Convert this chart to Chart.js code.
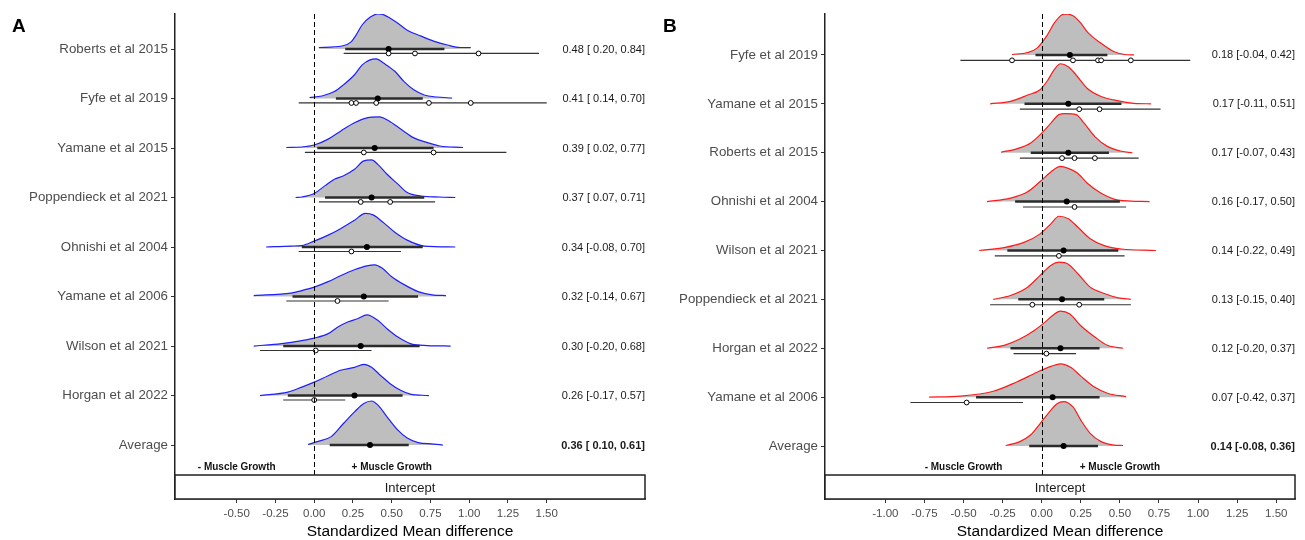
<!DOCTYPE html>
<html>
<head>
<meta charset="utf-8">
<script src="https://cdn.jsdelivr.net/npm/chart.js@4.4.1/dist/chart.umd.min.js"></script>
<style>
  body { margin: 0; background: #fff; }
  #wrap { position: relative; width: 1305px; height: 540px; }
  .panel { position: absolute; top: 0; }
</style>
</head>
<body>
<div id="wrap">
  <div class="panel" style="left:0"><canvas id="chartA" width="650" height="540"></canvas></div>
  <div class="panel" style="left:650px"><canvas id="chartB" width="655" height="540"></canvas></div>
</div>
<script>
const FONT = '"Liberation Sans", Arial, sans-serif';

// --- Panel A data ---
const studiesA = ['Roberts et al 2015', 'Fyfe et al 2019', 'Yamane et al 2015', 'Poppendieck et al 2021',
  'Ohnishi et al 2004', 'Yamane et al 2006', 'Wilson et al 2021', 'Horgan et al 2022', 'Average'];
const meanA = [0.48, 0.41, 0.39, 0.37, 0.34, 0.32, 0.30, 0.26, 0.36];
const lowA  = [0.20, 0.14, 0.02, 0.07, -0.08, -0.14, -0.20, -0.17, 0.10];
const highA = [0.84, 0.70, 0.77, 0.71, 0.70, 0.67, 0.68, 0.57, 0.61];
const obsA = [[0.48, 0.65, 1.06], [0.24, 0.27, 0.40, 0.74, 1.01], [0.32, 0.77], [0.30, 0.49],
  [0.24], [0.15], [0.01], [0.00], []];
const obsLowA  = [0.19, -0.10, -0.06, 0.03, -0.10, -0.18, -0.35, -0.20, null];
const obsHighA = [1.45, 1.50, 1.24, 0.78, 0.56, 0.48, 0.37, 0.20, null];
// density curves: [x, height in row units]
const densA = [
  [[0.03,0.03],[0.18,0.06],[0.24,0.15],[0.27,0.28],[0.31,0.49],[0.36,0.64],[0.41,0.71],[0.45,0.69],[0.49,0.62],[0.54,0.52],[0.60,0.38],[0.69,0.26],[0.77,0.16],[0.86,0.08],[0.94,0.03],[1.01,0.03]],
  [[-0.03,0.02],[0.05,0.05],[0.13,0.14],[0.19,0.28],[0.26,0.48],[0.31,0.68],[0.36,0.78],[0.40,0.80],[0.45,0.71],[0.52,0.55],[0.58,0.34],[0.64,0.18],[0.71,0.07],[0.79,0.03],[0.89,0.01]],
  [[-0.18,0.01],[-0.08,0.02],[0.00,0.06],[0.09,0.18],[0.17,0.34],[0.26,0.51],[0.34,0.61],[0.42,0.63],[0.48,0.55],[0.56,0.38],[0.64,0.21],[0.73,0.11],[0.81,0.04],[0.96,0.01]],
  [[-0.12,0.0],[-0.08,0.01],[0.00,0.08],[0.07,0.24],[0.13,0.37],[0.19,0.44],[0.26,0.57],[0.32,0.74],[0.37,0.76],[0.41,0.67],[0.47,0.47],[0.54,0.27],[0.60,0.10],[0.69,0.03],[0.81,0.01],[0.91,0.0]],
  [[-0.31,0.0],[-0.15,0.02],[-0.08,0.03],[0.00,0.12],[0.09,0.24],[0.17,0.37],[0.26,0.54],[0.33,0.68],[0.38,0.65],[0.44,0.51],[0.52,0.30],[0.60,0.14],[0.71,0.02],[0.91,0.0]],
  [[-0.39,0.02],[-0.15,0.07],[-0.08,0.12],[0.00,0.19],[0.09,0.30],[0.17,0.42],[0.26,0.54],[0.34,0.62],[0.39,0.64],[0.44,0.57],[0.50,0.40],[0.58,0.24],[0.67,0.10],[0.77,0.03],[0.85,0.02]],
  [[-0.39,0.0],[-0.21,0.05],[-0.08,0.11],[0.00,0.16],[0.09,0.25],[0.15,0.38],[0.22,0.49],[0.28,0.55],[0.34,0.63],[0.41,0.52],[0.47,0.35],[0.54,0.18],[0.62,0.05],[0.73,0.01],[0.88,0.0]],
  [[-0.35,0.0],[-0.17,0.07],[-0.08,0.17],[0.00,0.27],[0.09,0.40],[0.17,0.51],[0.26,0.57],[0.32,0.63],[0.37,0.57],[0.43,0.40],[0.49,0.24],[0.56,0.10],[0.62,0.03],[0.74,0.0]],
  [[-0.04,0.01],[0.02,0.07],[0.11,0.17],[0.19,0.44],[0.26,0.67],[0.32,0.84],[0.37,0.89],[0.41,0.81],[0.47,0.57],[0.54,0.30],[0.60,0.14],[0.67,0.05],[0.77,0.02],[0.83,0.0]]
];
const ticksA = [-0.5, -0.25, 0, 0.25, 0.5, 0.75, 1, 1.25, 1.5];

// --- Panel B data ---
const studiesB = ['Fyfe et al 2019', 'Yamane et al 2015', 'Roberts et al 2015', 'Ohnishi et al 2004',
  'Wilson et al 2021', 'Poppendieck et al 2021', 'Horgan et al 2022', 'Yamane et al 2006', 'Average'];
const meanB = [0.18, 0.17, 0.17, 0.16, 0.14, 0.13, 0.12, 0.07, 0.14];
const lowB  = [-0.04, -0.11, -0.07, -0.17, -0.22, -0.15, -0.20, -0.42, -0.08];
const highB = [0.42, 0.51, 0.43, 0.50, 0.49, 0.40, 0.37, 0.37, 0.36];
const obsB = [[-0.19, 0.20, 0.36, 0.38, 0.57], [0.24, 0.37], [0.13, 0.21, 0.34], [0.21],
  [0.11], [-0.06, 0.24], [0.03], [-0.48], []];
const obsLowB  = [-0.52, -0.14, -0.14, -0.12, -0.30, -0.33, -0.18, -0.84, null];
const obsHighB = [0.95, 0.76, 0.62, 0.54, 0.53, 0.57, 0.22, -0.12, null];
const densB = [
  [[-0.19,0.01],[-0.09,0.05],[-0.03,0.14],[0.03,0.38],[0.08,0.65],[0.12,0.80],[0.15,0.84],[0.20,0.80],[0.25,0.65],[0.30,0.44],[0.38,0.24],[0.46,0.07],[0.53,0.01],[0.59,0.0]],
  [[-0.33,0.0],[-0.20,0.05],[-0.09,0.18],[-0.01,0.29],[0.04,0.49],[0.08,0.70],[0.12,0.82],[0.17,0.76],[0.22,0.59],[0.29,0.32],[0.38,0.15],[0.46,0.08],[0.59,0.01],[0.70,0.0]],
  [[-0.26,0.01],[-0.16,0.08],[-0.07,0.20],[0.00,0.40],[0.06,0.61],[0.11,0.78],[0.15,0.80],[0.22,0.78],[0.27,0.61],[0.34,0.33],[0.42,0.13],[0.51,0.03],[0.58,0.0]],
  [[-0.35,0.0],[-0.20,0.07],[-0.09,0.20],[-0.01,0.41],[0.06,0.61],[0.12,0.72],[0.17,0.68],[0.23,0.58],[0.29,0.38],[0.38,0.17],[0.49,0.03],[0.69,0.0]],
  [[-0.40,0.0],[-0.24,0.06],[-0.11,0.17],[-0.01,0.34],[0.06,0.55],[0.11,0.70],[0.17,0.65],[0.23,0.48],[0.31,0.24],[0.40,0.10],[0.51,0.03],[0.73,0.0]],
  [[-0.31,0.0],[-0.20,0.08],[-0.09,0.25],[-0.01,0.49],[0.06,0.70],[0.11,0.76],[0.17,0.72],[0.23,0.53],[0.31,0.25],[0.40,0.12],[0.49,0.03],[0.57,0.0]],
  [[-0.35,0.0],[-0.24,0.06],[-0.14,0.19],[-0.05,0.36],[0.02,0.53],[0.07,0.67],[0.12,0.76],[0.18,0.70],[0.25,0.46],[0.34,0.23],[0.42,0.06],[0.52,0.0]],
  [[-0.72,0.0],[-0.52,0.02],[-0.31,0.12],[-0.16,0.31],[-0.03,0.51],[0.06,0.63],[0.12,0.68],[0.19,0.60],[0.25,0.43],[0.34,0.20],[0.42,0.08],[0.54,0.01]],
  [[-0.23,0.01],[-0.14,0.09],[-0.07,0.23],[-0.01,0.46],[0.05,0.70],[0.10,0.87],[0.14,0.91],[0.20,0.80],[0.25,0.53],[0.31,0.26],[0.38,0.09],[0.46,0.02],[0.52,0.01]]
];
const ticksB = [-1, -0.75, -0.5, -0.25, 0, 0.25, 0.5, 0.75, 1, 1.25, 1.5];


// "0.48 [ 0.20, 0.84]" style, like R's padded format
const fmtCI = (m, lo, hi) => {
    const pad = v => (v < 0 ? '' : ' ') + v.toFixed(2);
    return m.toFixed(2) + ' [' + pad(lo) + ', ' + hi.toFixed(2) + ']';
};

function makePanel(id, p) {
    const n = p.studies.length;
    const datasets = [];

    // densities, filled down to each row's baseline
    p.dens.forEach((curve, i) => {
        datasets.push({
            data: curve.map(([x, h]) => ({ x: x, y: i - h })),
            fill: { value: i },
            backgroundColor: '#BEBEBE',
            borderColor: p.color,
            borderWidth: 1.2,
            pointRadius: 0,
            cubicInterpolationMode: 'monotone',
            order: 5
        });
    });

    // observed effects range (thin) and posterior interval (thick)
    for (let i = 0; i < n; i++) {
        if (p.obsLow[i] !== null) {
            datasets.push({
                data: [{ x: p.obsLow[i], y: i + p.off }, { x: p.obsHigh[i], y: i + p.off }],
                borderColor: '#333', borderWidth: 1.2, pointRadius: 0, order: 3
            });
        }
        datasets.push({
            data: [{ x: p.low[i], y: i }, { x: p.high[i], y: i }],
            borderColor: '#2b2b2b', borderWidth: 2.5, pointRadius: 0, order: 2
        });
    }

    datasets.push({
        data: p.mean.map((m, i) => ({ x: m, y: i })),
        showLine: false, pointRadius: 3, pointBackgroundColor: '#000', pointBorderWidth: 0, order: 1
    });

    const white = [];
    p.obs.forEach((row, i) => row.forEach(v => white.push({ x: v, y: i + p.off })));
    datasets.push({
        data: white,
        showLine: false, pointRadius: 2.4, pointBackgroundColor: '#fff',
        pointBorderColor: '#000', pointBorderWidth: 1, order: 0
    });

    const decor = {
        id: 'decor',
        afterDatasetsDraw(chart) {
            const { ctx, chartArea: ca, scales: { x, y } } = chart;
            const stripTop = ca.bottom - 24;
            ctx.save();

            // zero reference line
            const x0 = Math.round(x.getPixelForValue(0)) + 0.5;
            ctx.strokeStyle = '#000';
            ctx.lineWidth = 1;
            ctx.setLineDash([5, 3]);
            ctx.beginPath();
            ctx.moveTo(x0, ca.top);
            ctx.lineTo(x0, stripTop);
            ctx.stroke();
            ctx.setLineDash([]);

            // estimate text per row
            ctx.fillStyle = '#1a1a1a';
            ctx.textAlign = 'right';
            ctx.textBaseline = 'middle';
            for (let i = 0; i < n; i++) {
                ctx.font = (i === n - 1 ? 'bold ' : '') + '11px ' + FONT;
                ctx.fillText(fmtCI(p.mean[i], p.low[i], p.high[i]), ca.right, y.getPixelForValue(i) + 0.5);
            }

            // direction labels
            ctx.font = 'bold 10px ' + FONT;
            ctx.textAlign = 'center';
            ctx.fillStyle = '#111';
            ctx.fillText('- Muscle Growth', x.getPixelForValue(-0.5), y.getPixelForValue(p.growthY));
            ctx.fillText('+ Muscle Growth', x.getPixelForValue(0.5), y.getPixelForValue(p.growthY));

            // facet strip at the bottom
            ctx.fillStyle = '#fff';
            ctx.fillRect(ca.left, stripTop, ca.right - ca.left, 24);
            ctx.strokeStyle = '#222';
            ctx.lineWidth = 1.5;
            ctx.strokeRect(ca.left, stripTop, ca.right - ca.left, 24);
            ctx.fillStyle = '#1a1a1a';
            ctx.font = '13px ' + FONT;
            ctx.fillText('Intercept', (ca.left + ca.right) / 2, stripTop + 13);

            // panel letter
            ctx.fillStyle = '#000';
            ctx.font = 'bold 19px ' + FONT;
            ctx.textAlign = 'left';
            ctx.textBaseline = 'alphabetic';
            ctx.fillText(p.letter, p.letterX, 32);
            ctx.restore();
        }
    };

    return new Chart(document.getElementById(id), {
        type: 'line',
        data: { datasets },
        plugins: [decor],
        options: {
            responsive: false,
            animation: false,
            layout: { padding: { top: 14, right: p.padRight, left: 0, bottom: 0 } },
            plugins: { legend: { display: false }, tooltip: { enabled: false } },
            scales: {
                x: {
                    type: 'linear',
                    min: p.xMin, max: p.xMax,
                    afterBuildTicks: a => { a.ticks = p.ticks.map(v => ({ value: v })); },
                    afterFit: s => { s.height = 41; },
                    ticks: {
                        autoSkip: false, maxRotation: 0, padding: 4,
                        color: '#4D4D4D', font: { size: 11.5, family: FONT },
                        callback: v => Number(v).toFixed(2)
                    },
                    grid: { drawOnChartArea: false, drawTicks: true, tickLength: 4, color: '#333' },
                    border: { display: true, color: '#222', width: 1.5 },
                    title: {
                        display: true, text: 'Standardized Mean difference',
                        color: '#000', font: { size: 15.5, family: FONT }, padding: { top: 0, bottom: -1 }
                    }
                },
                y: {
                    type: 'linear',
                    reverse: true,
                    min: p.yMin, max: p.yMax,
                    afterBuildTicks: a => { a.ticks = p.studies.map((s, i) => ({ value: i })); },
                    afterFit: s => { s.width = 175; },
                    ticks: {
                        autoSkip: false, padding: 3,
                        color: '#4D4D4D', font: { size: 13.3, family: FONT },
                        callback: v => p.studies[v]
                    },
                    grid: { drawOnChartArea: false, drawTicks: true, tickLength: 4, color: '#333' },
                    border: { display: true, color: '#222', width: 1.5 }
                }
            }
        }
    });
}

makePanel('chartA', {
    studies: studiesA, mean: meanA, low: lowA, high: highA,
    obs: obsA, obsLow: obsLowA, obsHigh: obsHighA, dens: densA, ticks: ticksA,
    color: '#1f1fff', letter: 'A', letterX: 12, padRight: 5, off: 0.09, growthY: 8.45,
    xMin: -0.898, xMax: 2.134, yMin: -0.707, yMax: 9.09
});

makePanel('chartB', {
    studies: studiesB, mean: meanB, low: lowB, high: highB,
    obs: obsB, obsLow: obsLowB, obsHigh: obsHighB, dens: densB, ticks: ticksB,
    color: '#ff1a1a', letter: 'B', letterX: 13, padRight: 10, off: 0.11, growthY: 8.43,
    xMin: -1.386, xMax: 1.62, yMin: -0.838, yMax: 9.084
});
</script>
</body>
</html>
